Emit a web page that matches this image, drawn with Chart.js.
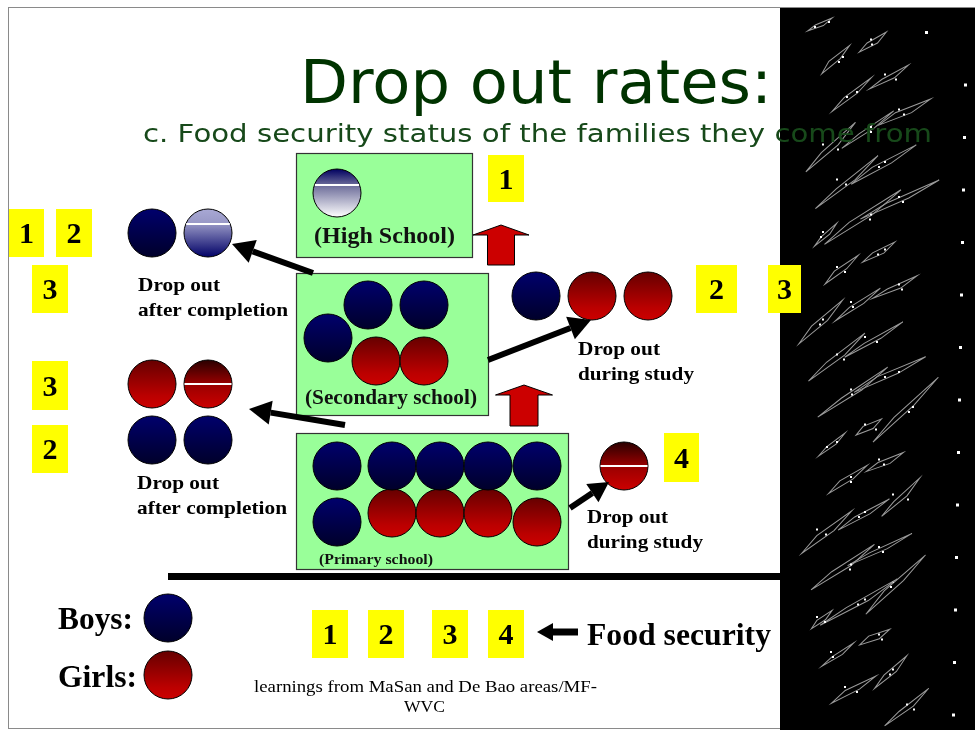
<!DOCTYPE html>
<html>
<head>
<meta charset="utf-8">
<script src="https://cdn.jsdelivr.net/npm/chart.js@4/dist/chart.umd.min.js"></script>
<style>
  html,body{margin:0;padding:0;background:#fff;}
  #wrap{width:975px;height:730px;position:relative;}
  canvas{display:block;}
</style>
</head>
<body>
<div id="wrap"><canvas id="c" width="975" height="730"></canvas></div>
<script>
// ---------- data (diagram coordinates: x 0..975, y 0..730 top-down) ----------
const boysPoints = [
  [152,233],                                   // dropped out after secondary completion
  [368,305],[424,305],[328,338],               // secondary school
  [536,296],                                   // dropped out during secondary
  [152,440],[208,440],                         // dropped out after primary completion
  [337,466],[392,466],[440,466],[488,466],[537,466],[337,522], // primary school
  [168,618]                                    // legend
];
const girlsPoints = [
  [376,361],[424,361],                         // secondary school
  [592,296],[648,296],                         // dropped out during secondary
  [152,384],                                   // dropped out after primary completion
  [392,513],[440,513],[488,513],[537,522],     // primary school
  [168,675]                                    // legend
];
const highSchoolBoys = [[337,193]];
const fadedBoys = [[208,233]];
const halfGirls = [[208,384],[624,466]];

const schoolLabels = ['(High School)','(Secondary school)','(Primary school)'];
const foodSecurityLevels = ['1','2','3','4'];
const titleText = 'Drop out rates:';
const subtitleText = 'c. Food security status of the families they come from';
const footerLines = ['learnings from MaSan and De Bao areas/MF-','WVC'];

// ---------- helpers ----------
const R = 24;
function toXY(a){ return a.map(p => ({x:p[0], y:p[1]})); }
function gradFill(stops){
  return function(c){
    const chart = c.chart;
    if (!chart.chartArea || !c.raw) return stops[0][1];
    const y = chart.scales.y.getPixelForValue(c.raw.y);
    const g = chart.ctx.createLinearGradient(0, y - R, 0, y + R);
    stops.forEach(s => g.addColorStop(s[0], s[1]));
    return g;
  };
}
function fitText(ctx, t, x, y, w, font, color){
  ctx.save();
  ctx.font = font; ctx.fillStyle = color; ctx.textAlign = 'left'; ctx.textBaseline = 'alphabetic';
  const m = ctx.measureText(t).width;
  ctx.translate(x, y); ctx.scale(w / m, 1);
  ctx.fillText(t, 0, 0);
  ctx.restore();
}
function arrow(ctx, x1, y1, x2, y2, lw, hl, hw){
  const a = Math.atan2(y2 - y1, x2 - x1);
  const bx = x2 - hl * Math.cos(a), by = y2 - hl * Math.sin(a);
  ctx.save();
  ctx.strokeStyle = '#000'; ctx.fillStyle = '#000'; ctx.lineWidth = lw; ctx.lineCap = 'butt';
  ctx.beginPath(); ctx.moveTo(x1, y1); ctx.lineTo(bx, by); ctx.stroke();
  ctx.beginPath();
  ctx.moveTo(x2, y2);
  ctx.lineTo(bx + hw * Math.sin(a), by - hw * Math.cos(a));
  ctx.lineTo(bx - hw * Math.sin(a), by + hw * Math.cos(a));
  ctx.closePath(); ctx.fill();
  ctx.restore();
}
function blockArrowUp(ctx, cx, top, headW, headH, shaftW, bottom){
  ctx.save();
  ctx.fillStyle = '#cc0000'; ctx.strokeStyle = '#000'; ctx.lineWidth = 1;
  ctx.beginPath();
  ctx.moveTo(cx, top);
  ctx.lineTo(cx + headW/2, top + headH);
  ctx.lineTo(cx + shaftW/2, top + headH);
  ctx.lineTo(cx + shaftW/2, bottom);
  ctx.lineTo(cx - shaftW/2, bottom);
  ctx.lineTo(cx - shaftW/2, top + headH);
  ctx.lineTo(cx - headW/2, top + headH);
  ctx.closePath(); ctx.fill(); ctx.stroke();
  ctx.restore();
}
function yellow(ctx, x, y, w, h, label){
  ctx.save();
  ctx.fillStyle = '#ffff00'; ctx.fillRect(x, y, w, h);
  ctx.fillStyle = '#000'; ctx.font = 'bold 30px "Liberation Serif"';
  ctx.textAlign = 'center'; ctx.textBaseline = 'alphabetic';
  ctx.fillText(label, x + w/2, y + h/2 + 10);
  ctx.restore();
}
function greenBox(ctx, x1, y1, x2, y2){
  ctx.save();
  ctx.fillStyle = '#99ff99'; ctx.fillRect(x1, y1, x2 - x1, y2 - y1);
  ctx.strokeStyle = '#333'; ctx.lineWidth = 1.2; ctx.strokeRect(x1 + .5, y1 + .5, x2 - x1, y2 - y1);
  ctx.restore();
}

// ---------- background / decorations ----------
const backdrop = {
  id: 'backdrop',
  beforeDatasetsDraw(chart){
    const ctx = chart.ctx;
    ctx.save();
    ctx.fillStyle = '#fff'; ctx.fillRect(0, 0, 975, 730);
    // slide frame
    ctx.strokeStyle = '#8a8a8a'; ctx.lineWidth = 1;
    ctx.strokeRect(8.5, 7.5, 975, 721);
    // black image strip with faint line-art texture
    ctx.fillStyle = '#000'; ctx.fillRect(780, 8, 195, 722);
    ctx.lineWidth = 1;
    for (let i = 0; i < 40; i++){
      const cx = 840 + ((i * 53) % 90) - 20;
      const cy = 25 + i * 17.5;
      const len = 14 + ((i * 37) % 34);
      ctx.save(); ctx.translate(cx, cy); ctx.rotate(-0.45 - ((i * 7) % 5) * 0.08);
      ctx.strokeStyle = '#9a9a9a';
      ctx.beginPath();
      ctx.moveTo(-len, 0);
      ctx.lineTo(-len * 0.3, -2 - (i % 3));
      ctx.lineTo(len, -1);
      ctx.lineTo(len * 0.2, 2 + (i % 2));
      ctx.closePath(); ctx.stroke();
      ctx.restore();
      ctx.fillStyle = '#ffffff';
      ctx.fillRect(cx - 6 + (i % 4) * 4, cy + 1, 2, 2);
      ctx.fillRect(cx + 8 - ((i * 11) % 20), cy - 4, 2, 2);
      if (i % 3 === 0) ctx.fillRect(925 + ((i * 13) % 40), cy + 6, 3, 3);
    }
    // green boxes
    greenBox(ctx, 296, 153, 472, 257);
    greenBox(ctx, 296, 273, 488, 415);
    greenBox(ctx, 296, 433, 568, 569);
    // ground line
    ctx.fillStyle = '#000'; ctx.fillRect(168, 573, 612, 7);
    ctx.restore();
  },
  afterDatasetsDraw(chart){
    const ctx = chart.ctx;
    const sx = chart.scales.x, sy = chart.scales.y;
    // white stripes on shaded circles
    chart.data.datasets.forEach(ds => {
      if (ds.stripe === undefined) return;
      ds.data.forEach(p => {
        const x = sx.getPixelForValue(p.x), y = sy.getPixelForValue(p.y) + ds.stripe;
        const half = Math.sqrt(R * R - ds.stripe * ds.stripe) - 0.5;
        ctx.save(); ctx.strokeStyle = '#fff'; ctx.lineWidth = 2;
        ctx.beginPath(); ctx.moveTo(x - half, y); ctx.lineTo(x + half, y); ctx.stroke(); ctx.restore();
      });
    });
    // titles
    fitText(ctx, titleText, 300, 103, 472, '60px "DejaVu Sans"', '#003300');
    fitText(ctx, subtitleText, 143, 142, 789, '25px "DejaVu Sans"', '#17491a');
    // school labels
    fitText(ctx, schoolLabels[0], 314, 243, 141, 'bold 23px "Liberation Serif"', '#111');
    fitText(ctx, schoolLabels[1], 305, 404, 172, 'bold 21px "Liberation Serif"', '#111');
    fitText(ctx, schoolLabels[2], 319, 564, 114, 'bold 14px "Liberation Serif"', '#111');
    // drop out labels
    const f19 = 'bold 19px "Liberation Serif"';
    fitText(ctx, 'Drop out', 138, 291, 82, f19, '#000');
    fitText(ctx, 'after completion', 138, 316, 150, f19, '#000');
    fitText(ctx, 'Drop out', 137, 489, 82, f19, '#000');
    fitText(ctx, 'after completion', 137, 514, 150, f19, '#000');
    fitText(ctx, 'Drop out', 578, 355, 82, f19, '#000');
    fitText(ctx, 'during study', 578, 380, 116, f19, '#000');
    fitText(ctx, 'Drop out', 587, 523, 81, f19, '#000');
    fitText(ctx, 'during study', 587, 548, 116, f19, '#000');
    // legend text
    const f30 = 'bold 31px "Liberation Serif"';
    fitText(ctx, 'Boys:', 58, 629, 75, f30, '#000');
    fitText(ctx, 'Girls:', 58, 687, 79, f30, '#000');
    fitText(ctx, 'Food security', 587, 645, 184, f30, '#000');
    // footer
    fitText(ctx, footerLines[0], 254, 692, 343, '17px "Liberation Serif"', '#000');
    fitText(ctx, footerLines[1], 404, 712, 41, '17px "Liberation Serif"', '#000');
    // black arrows
    arrow(ctx, 313, 273, 232, 244, 6, 22, 12);
    arrow(ctx, 345, 425, 249, 409, 6, 22, 12);
    arrow(ctx, 488, 360, 591, 320, 6, 22, 12);
    arrow(ctx, 570, 508, 609, 482, 6, 20, 11);
    arrow(ctx, 578, 632, 537, 632, 7, 16, 9);
    // red block arrows
    blockArrowUp(ctx, 501, 225, 56, 10, 27, 265);
    blockArrowUp(ctx, 524, 385, 57, 10, 28, 426);
    // yellow food-security badges
    yellow(ctx, 488, 155, 36, 47, foodSecurityLevels[0]);
    yellow(ctx, 9, 209, 35, 48, foodSecurityLevels[0]);
    yellow(ctx, 56, 209, 36, 48, foodSecurityLevels[1]);
    yellow(ctx, 32, 265, 36, 48, foodSecurityLevels[2]);
    yellow(ctx, 32, 361, 36, 49, foodSecurityLevels[2]);
    yellow(ctx, 32, 425, 36, 48, foodSecurityLevels[1]);
    yellow(ctx, 696, 265, 41, 48, foodSecurityLevels[1]);
    yellow(ctx, 768, 265, 33, 48, foodSecurityLevels[2]);
    yellow(ctx, 664, 433, 35, 49, foodSecurityLevels[3]);
    yellow(ctx, 312, 610, 36, 48, foodSecurityLevels[0]);
    yellow(ctx, 368, 610, 36, 48, foodSecurityLevels[1]);
    yellow(ctx, 432, 610, 36, 48, foodSecurityLevels[2]);
    yellow(ctx, 488, 610, 36, 48, foodSecurityLevels[3]);
  }
};

const pointBase = { showLine:false, pointRadius:R, pointHoverRadius:R, pointBorderColor:'#000', pointBorderWidth:1, clip:false };

new Chart(document.getElementById('c'), {
  type: 'scatter',
  data: {
    datasets: [
      Object.assign({ label:'Boys', data: toXY(boysPoints),
        pointBackgroundColor: gradFill([[0,'#00006c'],[1,'#00002a']]) }, pointBase),
      Object.assign({ label:'Girls', data: toXY(girlsPoints),
        pointBackgroundColor: gradFill([[0,'#660000'],[0.75,'#bb0000'],[1,'#cc0000']]) }, pointBase),
      Object.assign({ label:'High school boy', data: toXY(highSchoolBoys), stripe:-8,
        pointBackgroundColor: gradFill([[0,'#000060'],[0.33,'#6a6a98'],[1,'#ffffff']]) }, pointBase),
      Object.assign({ label:'Faded boy', data: toXY(fadedBoys), stripe:-9,
        pointBackgroundColor: gradFill([[0,'#a8a8d4'],[0.3,'#9898c6'],[1,'#000066']]) }, pointBase),
      Object.assign({ label:'Half girl', data: toXY(halfGirls), stripe:0,
        pointBackgroundColor: gradFill([[0,'#2a0000'],[0.5,'#990000'],[1,'#cc0000']]) }, pointBase)
    ]
  },
  options: {
    responsive:false, animation:false, devicePixelRatio:1,
    layout:{ padding:0, autoPadding:false },
    plugins:{ legend:{display:false}, tooltip:{enabled:false}, title:{display:false} },
    events: [],
    scales:{
      x:{ type:'linear', min:0, max:975, display:false },
      y:{ type:'linear', min:0, max:730, reverse:true, display:false }
    }
  },
  plugins:[backdrop]
});
</script>
</body>
</html>
